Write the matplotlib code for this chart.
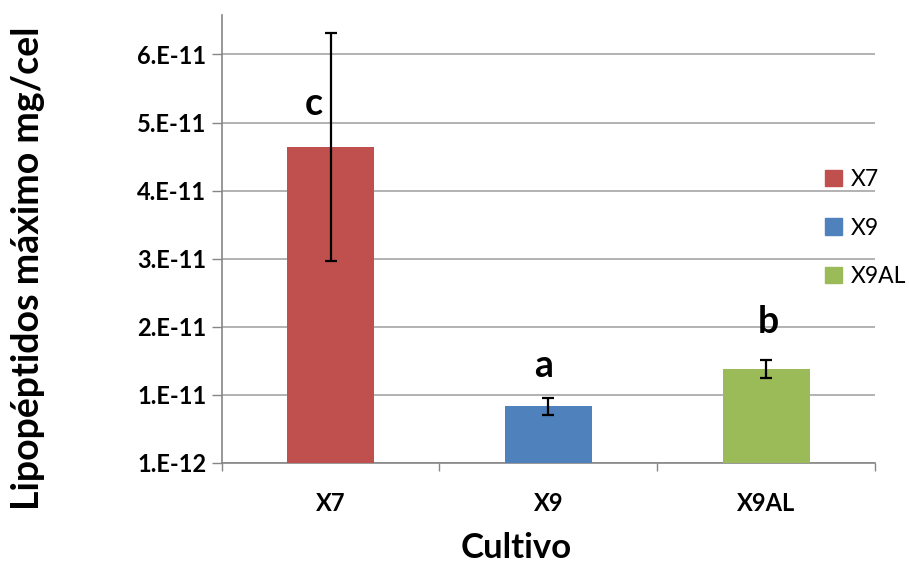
import matplotlib.pyplot as plt
import matplotlib.ticker as mticker

# lipopeptide maximum per culture (mg/cel), mean and error
cultivos = ['X7', 'X9', 'X9AL']
maximo = [4.74e-11, 9.29e-12, 1.478e-11]
error = [1.675e-11, 1.25e-12, 1.33e-12]
letras = ['c', 'a', 'b']
colores = ['#C0504D', '#4F81BD', '#9BBB59']

# value axis starts at 1E-12, steps of 1E-11
y_ticks = [1e-12, 1.1e-11, 2.1e-11, 3.1e-11, 4.1e-11, 5.1e-11, 6.1e-11]
y_labels = ['1.E-12', '1.E-11', '2.E-11', '3.E-11', '4.E-11', '5.E-11', '6.E-11']

plt.rcParams['font.family'] = ['Lato', 'DejaVu Sans']

fig = plt.figure(figsize=(9.09, 5.67), dpi=100)
ax = fig.add_axes([0.2439, 0.1840, 0.7187, 0.7895])

x = range(len(cultivos))
base = y_ticks[0]
heights = [v - base for v in maximo]
ax.bar(x, heights, bottom=base, width=0.4, color=colores, zorder=3)
ax.errorbar(x, maximo, yerr=error, fmt='none', ecolor='black',
            elinewidth=1.6, capsize=4.5, capthick=1.6, zorder=4)

# significance letters (baseline positions)
letra_x = [-0.075, -0.02, 0.01]
letra_y = [5.21e-11, 1.365e-11, 2.01e-11]
for i, t in enumerate(letras):
    ax.text(i + letra_x[i], letra_y[i], t, ha='center', va='baseline',
            fontsize=27, fontweight='bold')

ax.set_xlim(-0.5, 2.5)
ax.set_ylim(1e-12, 6.68e-11)
ax.set_yticks(y_ticks)
ax.set_yticklabels(y_labels, fontsize=17, fontweight='bold')
ax.set_xticks(list(x))
ax.set_xticklabels(cultivos, fontsize=17, fontweight='bold')
ax.xaxis.set_minor_locator(mticker.FixedLocator([-0.5, 0.5, 1.5, 2.5]))
ax.tick_params(axis='x', which='major', length=0, pad=21)
ax.tick_params(axis='x', which='minor', length=6, width=1, color='#868686',
               direction='out')
ax.tick_params(axis='y', length=7, width=1, color='#868686', pad=4)

ax.grid(axis='y', color='#A6A6A6', linewidth=1.2, zorder=0)
for s in ['top', 'right']:
    ax.spines[s].set_visible(False)
for s in ['left', 'bottom']:
    ax.spines[s].set_color('#868686')
    ax.spines[s].set_linewidth(1.2)

ax.set_ylabel('Lipopéptidos máximo mg/cel', fontsize=27, fontweight='bold',
              va='center')
ax.yaxis.set_label_coords(-0.296, 0.435)
fig.text(0.568, 0.034, 'Cultivo', ha='center', va='center', fontsize=25,
         fontweight='bold')

# legend with one square per culture
handles = [plt.Rectangle((0, 0), 1, 1, color=c) for c in colores]
leg = fig.legend(handles, cultivos, loc='upper left',
                 bbox_to_anchor=(0.897, 0.718), frameon=False, fontsize=16.5,
                 handlelength=0.75, handleheight=0.75, handletextpad=0.4,
                 labelspacing=1.2, borderaxespad=0)

fig.savefig('out.png', dpi=100)
